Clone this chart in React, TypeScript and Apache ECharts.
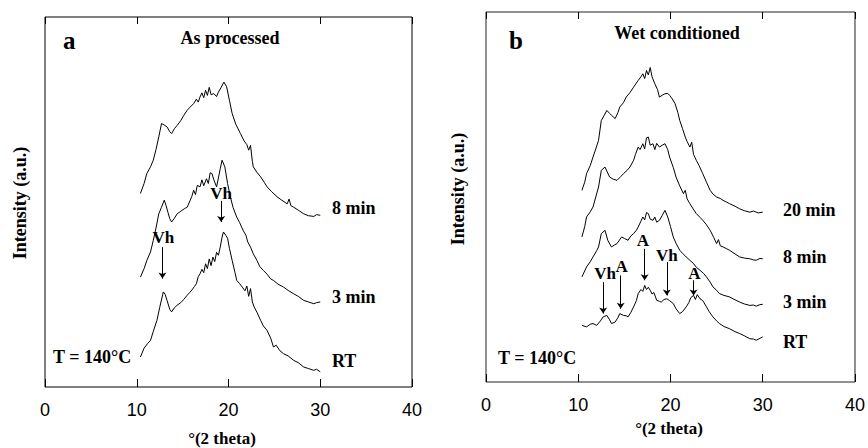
import React, { useEffect, useRef } from "react";
import * as echarts from "echarts";

// ---------- Data (x = °2θ, y = intensity a.u., arbitrary offsets) ----------
const xTicks = [0, 10, 20, 30, 40];

const aRT: number[][] = [[10.4,8.1],[10.8,10.5],[11.2,11.8],[11.5,12.6],[11.8,15.0],[12.2,18.0],[12.5,21.5],[12.9,25.7],[13.1,25.0],[13.3,23.4],[13.6,21.0],[13.8,20.3],[14.1,21.4],[14.4,22.1],[14.8,22.8],[15.1,23.6],[15.5,24.8],[15.8,25.6],[16.1,26.5],[16.3,27.2],[16.5,27.9],[16.7,29.8],[16.9,30.6],[17.1,31.8],[17.3,30.9],[17.5,33.3],[17.7,32.0],[17.9,34.6],[18.1,32.8],[18.3,35.1],[18.5,33.9],[18.7,36.4],[18.9,35.6],[19.1,37.8],[19.3,40.5],[19.45,41.9],[19.7,41.0],[19.9,40.2],[20.1,37.5],[20.4,34.2],[20.7,31.0],[20.9,28.8],[21.2,28.0],[21.5,27.0],[21.8,26.0],[22.0,27.3],[22.2,24.5],[22.4,26.6],[22.6,23.0],[22.8,21.6],[23.1,20.2],[23.5,18.0],[23.8,16.5],[24.2,15.3],[24.6,13.2],[24.9,10.8],[25.2,11.3],[25.6,9.8],[26.0,9.0],[26.5,8.4],[27.1,7.2],[27.6,6.6],[28.2,5.4],[28.7,5.0],[29.3,4.5],[29.6,4.8],[30.0,4.1]];

const a3min: number[][] = [[10.4,29.7],[10.8,32.0],[11.1,34.2],[11.5,36.5],[11.8,39.6],[12.1,43.0],[12.4,46.8],[12.7,48.6],[13.0,50.5],[13.2,49.0],[13.4,47.2],[13.6,45.5],[13.8,44.6],[14.1,45.6],[14.4,46.8],[14.8,47.5],[15.2,48.2],[15.5,48.6],[15.8,50.3],[16.0,51.5],[16.2,53.2],[16.4,52.0],[16.6,54.5],[16.9,54.1],[17.1,56.0],[17.3,54.4],[17.6,56.3],[17.8,55.0],[18.0,57.9],[18.2,57.7],[18.4,56.0],[18.7,54.1],[18.9,56.5],[19.1,59.0],[19.3,61.3],[19.6,59.5],[19.9,55.0],[20.2,51.4],[20.5,48.5],[20.9,45.9],[21.2,44.5],[21.6,42.3],[21.9,41.0],[22.1,39.2],[22.4,37.8],[22.7,36.0],[23.1,34.2],[23.4,32.6],[23.8,31.5],[24.2,30.5],[24.6,29.2],[24.9,28.8],[25.4,27.8],[26.0,27.0],[26.5,26.1],[27.1,25.2],[27.6,24.5],[28.2,23.4],[28.7,23.0],[29.3,22.5],[29.6,22.8],[30.0,23.0]];

const a8min: number[][] = [[10.4,52.3],[10.8,55.0],[11.1,57.7],[11.5,59.5],[11.8,61.3],[12.1,64.2],[12.4,67.6],[12.7,71.2],[13.0,70.8],[13.3,70.3],[13.6,69.0],[13.8,68.5],[14.1,69.8],[14.4,70.7],[14.8,72.0],[15.1,73.3],[15.5,74.8],[15.8,75.6],[16.2,76.6],[16.5,77.8],[16.7,77.0],[16.9,78.4],[17.1,79.5],[17.3,78.2],[17.5,80.2],[17.7,78.8],[17.9,81.0],[18.1,79.0],[18.4,79.3],[18.7,78.5],[18.9,79.7],[19.2,81.0],[19.5,82.4],[19.8,81.1],[20.1,77.5],[20.4,73.9],[20.8,71.0],[21.3,68.5],[21.7,66.5],[22.0,65.5],[22.2,64.0],[22.4,65.3],[22.6,61.0],[22.7,59.5],[23.1,58.0],[23.5,56.8],[23.9,55.3],[24.2,54.1],[24.7,52.8],[25.3,51.4],[25.8,50.5],[26.4,49.5],[26.6,50.8],[26.8,49.0],[27.1,48.6],[27.6,47.8],[28.2,46.8],[28.7,46.3],[29.3,46.1],[29.6,46.6],[30.0,46.4]];

const bRT: number[][] = [[10.4,15.3],[10.9,14.9],[11.3,15.6],[11.6,15.8],[12.0,15.3],[12.4,16.5],[12.7,17.6],[13.1,18.0],[13.4,16.8],[13.6,15.8],[14.0,16.2],[14.3,17.4],[14.5,18.5],[14.9,18.0],[15.2,17.9],[15.4,17.6],[15.7,18.8],[16.0,20.3],[16.3,22.0],[16.5,23.9],[16.8,25.0],[17.0,24.5],[17.2,26.1],[17.4,25.0],[17.6,25.6],[17.8,24.8],[18.0,23.8],[18.2,24.2],[18.5,22.1],[18.8,21.8],[19.0,21.6],[19.3,22.3],[19.6,22.5],[19.9,22.0],[20.3,21.2],[20.6,19.8],[21.0,18.5],[21.3,19.0],[21.7,20.3],[22.0,21.5],[22.2,22.8],[22.5,23.4],[22.7,22.3],[22.9,23.6],[23.2,22.5],[23.5,22.0],[23.9,20.3],[24.2,19.0],[24.6,17.6],[25.0,16.5],[25.3,15.8],[25.8,15.0],[26.4,14.4],[27.0,13.6],[27.5,13.1],[28.0,12.5],[28.6,11.7],[29.0,11.6],[29.3,11.3],[29.7,11.8],[30.0,12.2]];

const b3min: number[][] = [[10.4,28.4],[10.9,31.1],[11.3,32.5],[11.6,33.8],[12.0,35.5],[12.2,36.5],[12.5,40.1],[12.9,41.0],[13.2,38.3],[13.6,36.5],[13.9,37.0],[14.2,37.4],[14.7,39.2],[15.0,38.8],[15.4,38.3],[15.7,39.5],[16.0,40.1],[16.3,41.0],[16.5,41.9],[16.8,43.5],[17.0,44.6],[17.2,43.8],[17.4,45.8],[17.6,45.5],[17.8,44.0],[18.1,43.7],[18.3,44.6],[18.5,43.2],[18.8,43.7],[19.1,45.0],[19.4,46.4],[19.7,44.6],[20.0,42.0],[20.3,39.2],[20.6,37.5],[21.0,35.6],[21.3,34.8],[21.7,33.8],[22.1,32.9],[22.5,32.0],[22.8,31.0],[23.2,30.2],[23.6,29.3],[23.9,28.4],[24.3,27.0],[24.6,25.7],[25.0,24.8],[25.3,23.9],[25.8,23.4],[26.4,23.0],[27.0,22.2],[27.5,21.6],[28.0,21.1],[28.6,20.7],[29.0,20.8],[29.3,20.5],[29.7,20.9],[30.0,21.0]];

const b8min: number[][] = [[10.4,39.2],[10.7,42.0],[10.9,44.6],[11.3,46.0],[11.6,47.3],[11.9,50.0],[12.2,52.7],[12.5,57.2],[12.9,58.1],[13.1,57.0],[13.4,55.4],[13.8,54.8],[14.2,54.5],[14.6,55.5],[14.9,56.3],[15.3,57.2],[15.6,58.1],[16.0,59.9],[16.2,61.5],[16.5,63.5],[16.7,62.8],[17.0,64.4],[17.2,63.0],[17.4,66.0],[17.6,66.2],[17.8,64.0],[18.1,64.4],[18.3,62.8],[18.5,64.5],[18.8,63.5],[19.1,64.0],[19.4,64.4],[19.7,62.8],[19.9,60.8],[20.3,58.0],[20.6,55.4],[21.0,53.0],[21.4,50.9],[21.6,51.8],[21.8,49.5],[22.1,48.2],[22.4,47.0],[22.8,45.5],[23.2,44.5],[23.5,43.7],[23.9,42.5],[24.3,41.0],[24.7,39.0],[25.0,37.4],[25.2,38.5],[25.4,36.8],[25.7,36.5],[26.1,36.0],[26.4,35.6],[27.0,34.6],[27.5,33.8],[28.0,33.5],[28.6,33.3],[29.0,33.0],[29.3,32.9],[29.7,33.4],[30.0,33.3]];

const b20min: number[][] = [[10.4,51.8],[10.7,54.0],[10.9,56.3],[11.3,58.5],[11.6,60.8],[11.9,63.0],[12.2,65.3],[12.5,70.7],[12.8,72.0],[13.1,73.4],[13.4,72.6],[13.6,72.1],[14.0,71.2],[14.3,72.8],[14.5,74.3],[14.9,75.5],[15.2,77.0],[15.6,78.2],[16.0,79.7],[16.3,80.8],[16.5,81.5],[16.8,82.5],[17.0,83.3],[17.2,82.0],[17.4,84.2],[17.6,83.0],[17.8,85.0],[18.0,82.5],[18.3,80.6],[18.6,79.0],[18.8,77.0],[19.1,77.5],[19.4,77.9],[19.7,78.0],[19.9,77.5],[20.2,76.5],[20.5,75.2],[20.8,72.8],[21.0,70.7],[21.3,68.5],[21.6,66.2],[21.8,65.0],[22.1,63.5],[22.3,64.8],[22.5,61.5],[22.8,59.9],[23.1,58.5],[23.5,56.3],[23.9,54.0],[24.3,51.8],[24.6,50.8],[25.0,50.0],[25.4,49.6],[25.7,49.1],[26.1,48.6],[26.4,48.2],[27.0,47.5],[27.5,46.8],[28.0,46.3],[28.6,45.9],[29.0,46.2],[29.5,45.7],[30.0,45.9]];

// Peak annotations: [textX, textY, arrowStartY, arrowEndY, arrowX]
const aMarkNames = ["Vh", "Vh"];
const aMarks: number[][] = [[12.9, 40.3, 37.8, 29.3, 12.8], [19.2, 52.3, 50.3, 44.6, 19.2]];
const bMarkNames = ["Vh", "A", "A", "Vh", "A"];
const bMarks: number[][] = [[12.9, 29.3, 27.0, 18.5, 12.7], [14.7, 31.1, 28.8, 19.8, 14.6], [17.0, 38.3, 36.0, 27.5, 17.2], [19.6, 34.2, 32.4, 23.4, 19.6], [22.6, 29.3, 27.5, 23.4, 22.5]];

const SERIF = '"Liberation Serif", "Times New Roman", serif';
const SANS = '"Liberation Sans", Arial, sans-serif';

export default function App() {
  const ref = useRef<HTMLDivElement>(null);
  useEffect(() => {
    if (!ref.current) return;
    const chart = echarts.init(ref.current, undefined, { renderer: "svg" });

    const lineSeries = (data: number[][], idx: number) => ({
      type: "line",
      xAxisIndex: idx * 2,
      yAxisIndex: idx,
      data,
      showSymbol: false,
      symbol: "none",
      lineStyle: { color: "#000", width: 1 },
      silent: true,
    });

    const arrowSeries = (marks: number[][], names: string[], idx: number) => ({
      type: "scatter",
      xAxisIndex: idx * 2,
      yAxisIndex: idx,
      symbolSize: 0,
      silent: true,
      itemStyle: { opacity: 1, color: "#000" },
      data: marks.map((m, i) => ({ value: [m[0], m[1]], name: names[i] })),
      label: {
        show: true,
        position: "inside",
        formatter: "{b}",
        color: "#000",
        opacity: 1,
        textBorderWidth: 0,
        fontFamily: SERIF,
        fontWeight: "bold",
        fontSize: 17,
      },
      markLine: {
        silent: true,
        symbol: ["none", "arrow"],
        symbolSize: 6,
        label: { show: false },
        lineStyle: { color: "#000", width: 1, type: "solid", opacity: 1 },
        data: marks.map((m) => [{ coord: [m[4], m[2]] }, { coord: [m[4], m[3]] }]),
      },
    });

    const xBottom = (grid: number) => ({
      type: "value",
      gridIndex: grid,
      min: 0,
      max: 40,
      interval: 10,
      position: "bottom",
      axisLine: { show: false },
      splitLine: { show: false },
      axisTick: { show: true, inside: true, length: 8, lineStyle: { color: "#000" } },
      axisLabel: { color: "#000", fontFamily: SANS, fontSize: 18, margin: 14 },
    });
    const xTop = (grid: number) => ({
      type: "value",
      gridIndex: grid,
      min: 0,
      max: 40,
      interval: 10,
      position: "top",
      axisLine: { show: false },
      splitLine: { show: false },
      axisTick: { show: true, inside: true, length: 7, lineStyle: { color: "#000" } },
      axisLabel: { show: false },
    });
    const yAx = (grid: number) => ({
      type: "value",
      gridIndex: grid,
      min: 0,
      max: 100,
      show: false,
    });

    const txt = (text: string, x: number, y: number, size: number, align = "left", rot = 0) => ({
      type: "text",
      x,
      y,
      rotation: rot,
      silent: true,
      style: {
        text,
        x: 0,
        y: 0,
        fill: "#000",
        font: `bold ${size}px ${SERIF}`,
        textAlign: align,
        textVerticalAlign: "middle",
      },
    });

    chart.setOption({
      animation: false,
      backgroundColor: "#fff",
      grid: [
        { left: 45, top: 17, width: 367, height: 370, show: true, borderColor: "#000", borderWidth: 1, backgroundColor: "transparent" },
        { left: 486, top: 12, width: 369, height: 370, show: true, borderColor: "#222", borderWidth: 1, backgroundColor: "transparent" },
      ],
      xAxis: [xBottom(0), xTop(0), xBottom(1), xTop(1)],
      yAxis: [yAx(0), yAx(1)],
      series: [
        lineSeries(aRT, 0),
        lineSeries(a3min, 0),
        lineSeries(a8min, 0),
        arrowSeries(aMarks, aMarkNames, 0),
        lineSeries(bRT, 1),
        lineSeries(b3min, 1),
        lineSeries(b8min, 1),
        lineSeries(b20min, 1),
        arrowSeries(bMarks, bMarkNames, 1),
      ],
      graphic: [
        txt("a", 63, 40, 25),
        txt("As processed", 230, 38, 18, "center"),
        txt("Intensity (a.u.)", 20, 203, 18, "center", Math.PI / 2),
        txt("8 min", 332, 208, 18),
        txt("3 min", 332, 297, 18),
        txt("RT", 332, 361, 18),
        txt("T = 140°C", 53, 357, 18),
        txt("°(2 theta)", 222, 438, 17, "center"),
        txt("b", 509, 40, 25),
        txt("Wet conditioned", 677, 33, 18, "center"),
        txt("Intensity (a.u.)", 458, 189, 18, "center", Math.PI / 2),
        txt("20 min", 783, 210, 18),
        txt("8 min", 783, 257, 18),
        txt("3 min", 783, 302, 18),
        txt("RT", 783, 342, 18),
        txt("T = 140°C", 498, 358, 18),
        txt("°(2 theta)", 669, 428, 17, "center"),
      ],
    });
    return () => chart.dispose();
  }, []);
  return (
    <div
      ref={ref}
      style={{ position: "fixed", left: 0, top: 0, width: 868, height: 448 }}
    />
  );
}
